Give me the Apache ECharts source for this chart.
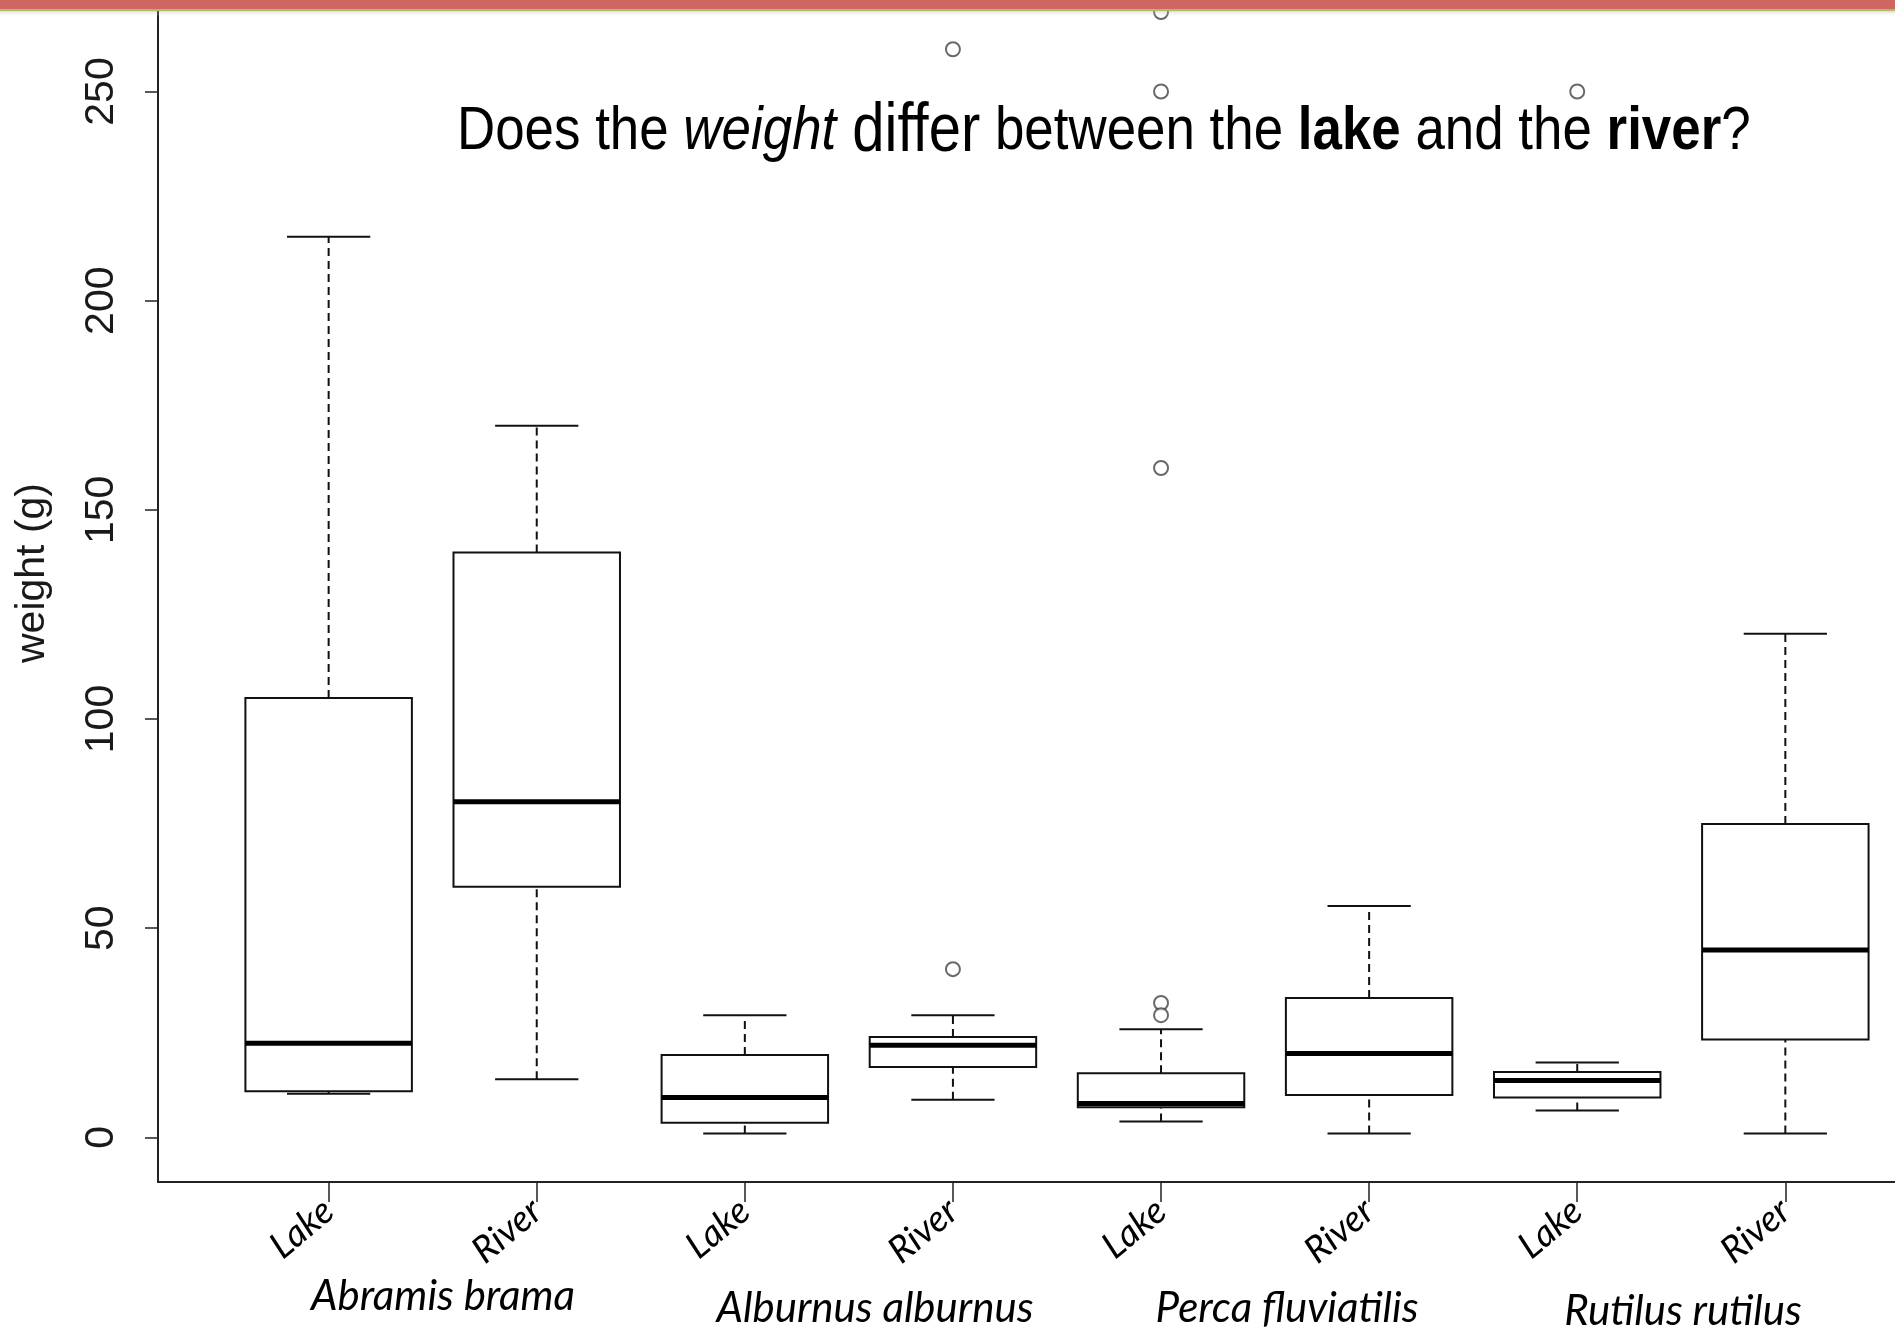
<!DOCTYPE html>
<html>
<head>
<meta charset="utf-8">
<script src="https://cdn.jsdelivr.net/npm/echarts@6/dist/echarts.min.js"></script>
<style>
html,body{margin:0;padding:0;background:#fff;}
#chart{width:1895px;height:1329px;}
</style>
</head>
<body>
<div id="chart"></div>
<script>
// ---- data ----
const groups = ['Lake', 'River', 'Lake', 'River', 'Lake', 'River', 'Lake', 'River'];
const species = ['Abramis brama', 'Alburnus alburnus', 'Perca fluviatilis', 'Rutilus rutilus'];
const whiskerLow  = [10.4, 13.9, 0.9, 9.0, 3.8, 0.9, 6.4, 0.9];
const q1          = [11.0, 59.9, 3.5, 16.8, 7.2, 10.1, 9.5, 23.4];
const median      = [22.5, 80.2, 9.5, 22.0, 8.1, 20.0, 13.6, 44.8];
const q3          = [105.0, 139.8, 19.7, 24.0, 15.3, 33.3, 15.6, 74.9];
const whiskerHigh = [215.3, 170.1, 29.2, 29.2, 25.8, 55.3, 17.9, 120.4];
const outlierBox   = [4, 4, 5, 5, 5, 5, 5, 7];
const outlierValue = [40.2, 260.1, 269.0, 250.0, 160.0, 32.1, 29.2, 250.0];
const yTicks = [0, 50, 100, 150, 200, 250];
const xTicks = [1, 2, 3, 4, 5, 6, 7, 8];

const boxData = groups.map((g, i) => [i + 1, whiskerLow[i], q1[i], median[i], q3[i], whiskerHigh[i]]);
const outData = outlierBox.map((b, i) => [b, outlierValue[i]]);

const arial = "'Liberation Sans',Arial,sans-serif";
const calib = "Lato,'Open Sans',sans-serif";

const chart = echarts.init(document.getElementById('chart'), null, {renderer: 'canvas'});

function renderBox(params, api) {
  const x = api.value(0);
  const lo = api.coord([x, api.value(1)]);
  const a = api.coord([x, api.value(2)]);
  const m = api.coord([x, api.value(3)]);
  const b = api.coord([x, api.value(4)]);
  const hi = api.coord([x, api.value(5)]);
  const bw = api.size([0.8, 0])[0];
  const cw = api.size([0.4, 0])[0];
  const cx = lo[0];
  const solid = {stroke: '#111', lineWidth: 2, fill: null};
  const dashed = {stroke: '#111', lineWidth: 2, lineDash: [8, 5], fill: null};
  return {
    type: 'group',
    children: [
      {type: 'line', shape: {x1: cx, y1: b[1], x2: cx, y2: hi[1]}, style: dashed},
      {type: 'line', shape: {x1: cx, y1: lo[1], x2: cx, y2: a[1]}, style: dashed},
      {type: 'line', shape: {x1: cx - cw / 2, y1: hi[1], x2: cx + cw / 2, y2: hi[1]}, style: solid},
      {type: 'line', shape: {x1: cx - cw / 2, y1: lo[1], x2: cx + cw / 2, y2: lo[1]}, style: solid},
      {type: 'rect', shape: {x: cx - bw / 2, y: b[1], width: bw, height: a[1] - b[1]},
        style: {stroke: '#111', lineWidth: 2, fill: '#fff'}},
      {type: 'line', shape: {x1: cx - bw / 2, y1: m[1], x2: cx + bw / 2, y2: m[1]},
        style: {stroke: '#000', lineWidth: 5}}
    ]
  };
}

const option = {
  backgroundColor: '#fff',
  animation: false,
  grid: {left: 158, right: 0, top: 11, bottom: 147, containLabel: false, outerBoundsMode: 'none'},
  xAxis: {
    type: 'value',
    min: 0.18,
    max: 8.527,
    splitLine: {show: false},
    axisLine: {show: true, onZero: false, lineStyle: {color: '#222', width: 2}},
    axisTick: {show: true, customValues: xTicks, length: 20, lineStyle: {color: '#222', width: 1.5}},
    axisLabel: {
      show: true, customValues: xTicks, rotate: 40, margin: 24,
      formatter: v => groups[Math.round(v) - 1] || '',
      fontFamily: calib, fontStyle: 'italic', fontSize: 37, color: '#000'
    }
  },
  yAxis: {
    type: 'value',
    min: -10.69,
    max: 269.25,
    splitLine: {show: false},
    axisLine: {show: true, lineStyle: {color: '#222', width: 2}},
    axisTick: {show: true, customValues: yTicks, length: 13, lineStyle: {color: '#222', width: 1.5}},
    axisLabel: {
      show: true, customValues: yTicks, rotate: 90, margin: 36,
      fontFamily: arial, fontSize: 41, color: '#1a1a1a'
    }
  },
  series: [
    {
      type: 'custom',
      renderItem: renderBox,
      data: boxData,
      encode: {x: 0, y: [1, 2, 3, 4, 5]},
      clip: false,
      z: 2
    },
    {
      type: 'scatter',
      data: outData,
      symbol: 'emptyCircle',
      symbolSize: 14,
      itemStyle: {color: '#444', borderWidth: 2},
      clip: false,
      z: 3
    }
  ],
  graphic: [
    {
      type: 'text', x: 457, y: 166, scaleX: 0.853, z: 10,
      style: {
        text: '{n|Does the }{i|weight}{d| differ}{n| between the }{b|lake}{n| and the }{b|river}{n|?}',
        verticalAlign: 'bottom',
        rich: {
          n: {fontFamily: arial, fontSize: 62, color: '#000'},
          i: {fontFamily: arial, fontSize: 62, fontStyle: 'italic', color: '#000'},
          d: {fontFamily: arial, fontSize: 68, color: '#000'},
          b: {fontFamily: arial, fontSize: 62, fontWeight: 'bold', color: '#000'}
        }
      }
    },
    {type: 'text', x: 33, y: 573, rotation: Math.PI / 2, z: 10,
      style: {text: 'weight (g)', fontFamily: arial, fontSize: 41, fill: '#1a1a1a', align: 'center', verticalAlign: 'middle'}},
    {type: 'text', x: 443, y: 1296, z: 10, style: {text: species[0], fontFamily: calib, fontStyle: 'italic', fontSize: 42, fill: '#000', align: 'center', verticalAlign: 'middle'}},
    {type: 'text', x: 875, y: 1308, z: 10, style: {text: species[1], fontFamily: calib, fontStyle: 'italic', fontSize: 42, fill: '#000', align: 'center', verticalAlign: 'middle'}},
    {type: 'text', x: 1287, y: 1308, z: 10, style: {text: species[2], fontFamily: calib, fontStyle: 'italic', fontSize: 42, fill: '#000', align: 'center', verticalAlign: 'middle'}},
    {type: 'text', x: 1683, y: 1311, z: 10, style: {text: species[3], fontFamily: calib, fontStyle: 'italic', fontSize: 42, fill: '#000', align: 'center', verticalAlign: 'middle'}},
    {type: 'rect', left: 0, top: 10, z: 19, shape: {width: 1895, height: 7},
      style: {fill: new echarts.graphic.LinearGradient(0, 0, 0, 1, [{offset: 0, color: 'rgba(150,150,150,0.45)'}, {offset: 1, color: 'rgba(255,255,255,0)'}])}},
    {type: 'rect', left: 0, top: 9, z: 20, shape: {width: 1895, height: 2}, style: {fill: '#A9BF6C'}},
    {type: 'rect', left: 0, top: 0, z: 21, shape: {width: 1895, height: 9}, style: {fill: '#CF6661'}}
  ]
};
chart.setOption(option);
</script>
</body>
</html>
